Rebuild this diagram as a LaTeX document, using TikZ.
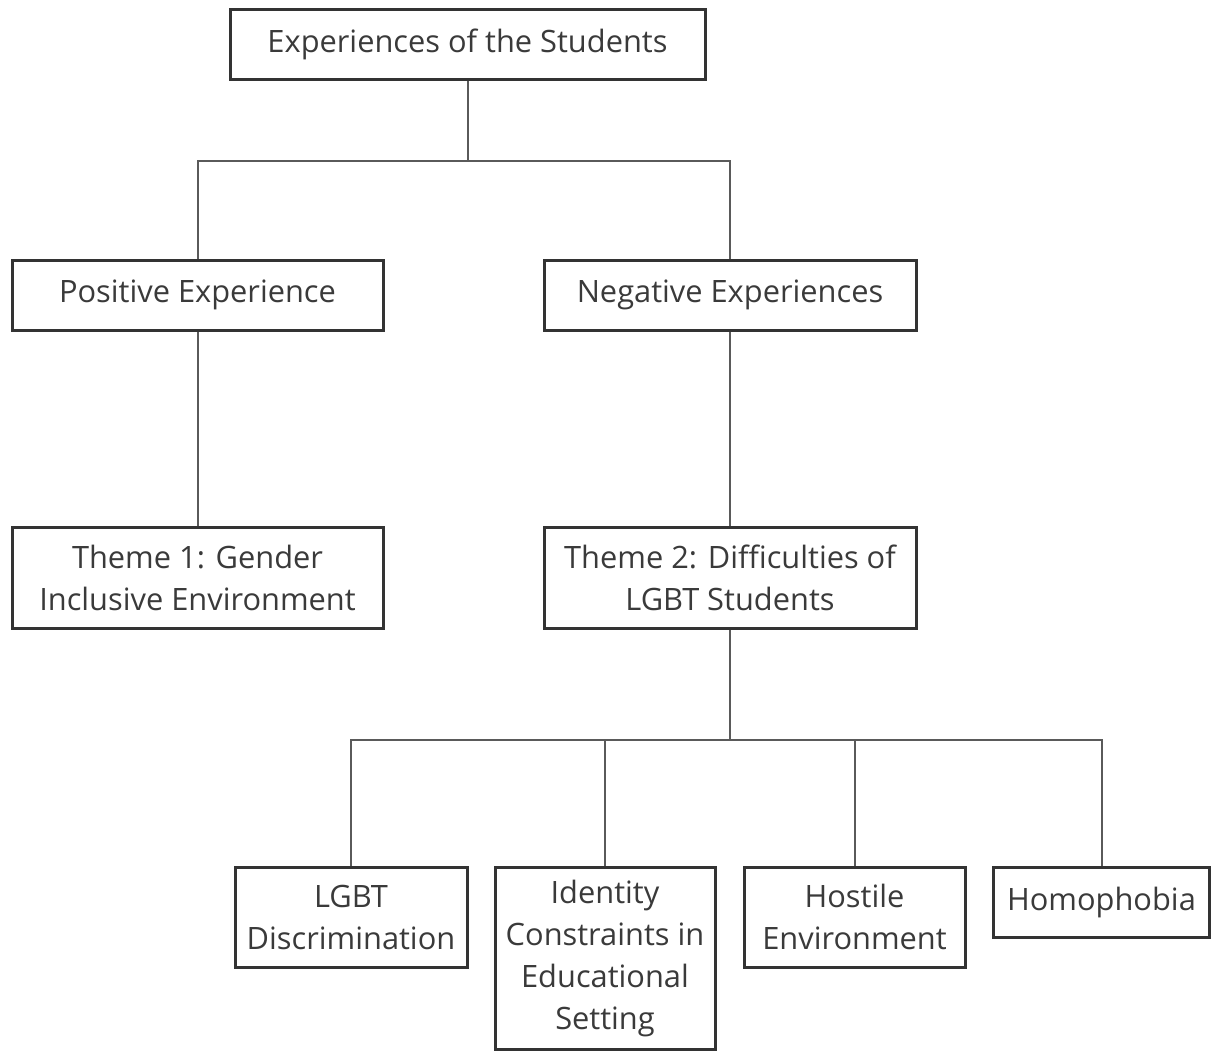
\documentclass[tikz,border=0pt]{standalone}
\usepackage{fontspec}
\setmainfont{Open Sans}
\definecolor{boxline}{HTML}{333333}
\definecolor{linkline}{HTML}{5A5A5A}
\definecolor{boxtext}{HTML}{3A3A3A}
\tikzset{
	themebox/.style={draw=boxline, line width=1.5pt, text=boxtext, align=center, inner sep=0pt, font=\fontsize{15.4}{21}\selectfont},
	link/.style={draw=linkline, line width=1pt}
}

\begin{document}
\begin{tikzpicture}[x=0.5pt, y=-0.5pt]
			%%%%% START %%%%%
			
			\useasboundingbox (0,0) rectangle (1212,1051);
			
			\node[themebox, minimum width=237.5pt, minimum height=35pt] (students) at (467.5,44) {Experiences of the Students};
			
			\node[themebox, minimum width=185.5pt, minimum height=35pt] (positive) at (197.5,295) {Positive Experience};
			\node[themebox, minimum width=186pt, minimum height=35pt] (negative) at (730,295) {Negative Experiences};
			
			\node[themebox, minimum width=185.5pt, minimum height=50.5pt] (theme1) at (197.5,577.5) {Theme 1: Gender\\Inclusive Environment};
			\node[themebox, minimum width=186pt, minimum height=50.5pt] (theme2) at (730,577.5) {Theme 2: Difficulties of\\LGBT Students};
			
			\node[themebox, minimum width=116pt, minimum height=50pt] (discrimination) at (351,917) {LGBT\\Discrimination};
			\node[themebox, minimum width=110pt, minimum height=91pt] (identity) at (605,958) {Identity\\Constraints in\\Educational\\Setting};
			\node[themebox, minimum width=110.5pt, minimum height=50pt] (hostile) at (854.5,917) {Hostile\\Environment};
			\node[themebox, minimum width=108pt, minimum height=35pt] (homophobia) at (1101.5,902) {Homophobia};
			
			\coordinate (topsplit) at (467,161);
			\coordinate (themesplit) at (730,740);
			
			\draw[link] (students.south) -- (students.south |- topsplit);
			\draw[link] (positive.north) |- (topsplit) -| (negative.north);
			
			\draw[link] (positive) -- (theme1);
			\draw[link] (negative) -- (theme2);
			
			\draw[link] (theme2.south) -- (theme2.south |- themesplit);
			\draw[link] (discrimination.north) |- (themesplit) -| (homophobia.north);
			\draw[link] (identity.north) -- (identity.north |- themesplit);
			\draw[link] (hostile.north) -- (hostile.north |- themesplit);
			
			%%%%% END %%%%%
\end{tikzpicture}
\end{document}
